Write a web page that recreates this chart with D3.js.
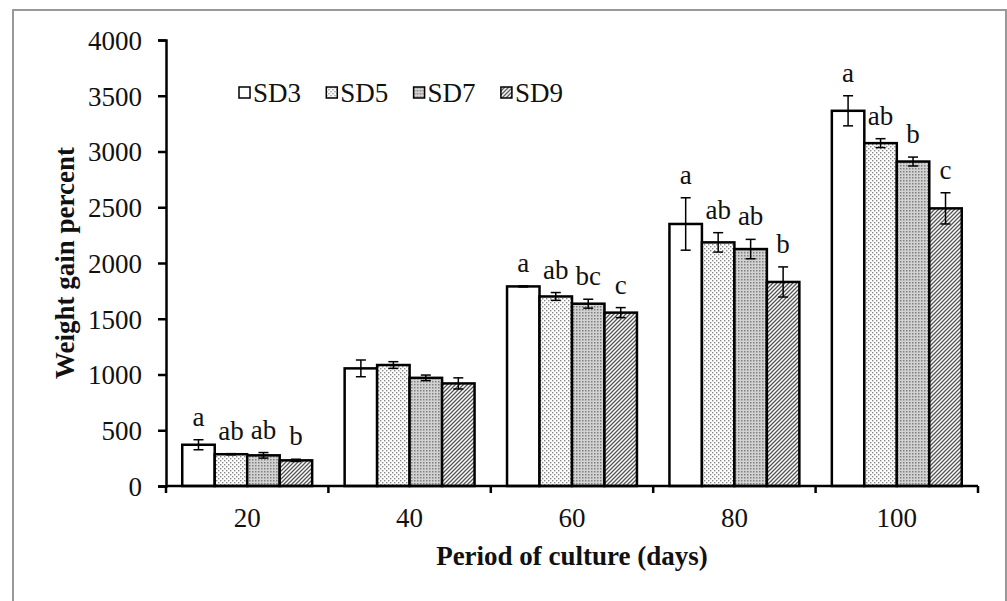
<!DOCTYPE html>
<html>
<head>
<meta charset="utf-8">
<style>
  body { margin: 0; background: #fff; }
  svg text { font-family: "Liberation Serif", "Times New Roman", serif; fill: #111; }
</style>
</head>
<body>
<svg width="1007" height="601"></svg>
<script src="https://d3js.org/d3.v7.min.js"></script>
<script>
// data
var periods = ["20", "40", "60", "80", "100"];
var series = ["SD3", "SD5", "SD7", "SD9"];
var means = {
  SD3: [370, 1055, 1790, 2350, 3365],
  SD5: [285, 1085, 1700, 2185, 3075],
  SD7: [275, 970, 1635, 2125, 2910],
  SD9: [230, 920, 1555, 1830, 2490]
};
var errs = {
  SD3: [45, 75, 5, 235, 135],
  SD5: [5, 30, 35, 87, 40],
  SD7: [25, 25, 40, 87, 40],
  SD9: [10, 50, 45, 135, 140]
};
var letters = {
  SD3: ["a", "", "a", "a", "a"],
  SD5: ["ab", "", "ab", "ab", "ab"],
  SD7: ["ab", "", "bc", "ab", "b"],
  SD9: ["b", "", "c", "b", "c"]
};
var yTicks = [0, 500, 1000, 1500, 2000, 2500, 3000, 3500, 4000];

var fs = 27;
var svg = d3.select("svg");

// outer frame
svg.append("rect")
  .attr("x", 13).attr("y", 10)
  .attr("width", 993).attr("height", 600)
  .attr("fill", "none").attr("stroke", "#999").attr("stroke-width", 2);

// fill patterns
var defs = svg.append("defs");
var p5 = defs.append("pattern").attr("id", "p-SD5")
  .attr("patternUnits", "userSpaceOnUse").attr("width", 4).attr("height", 4);
p5.append("rect").attr("width", 4).attr("height", 4).attr("fill", "#fff");
p5.append("rect").attr("x", 0).attr("y", 0).attr("width", 1.4).attr("height", 1.4).attr("fill", "#8a8a8a");
p5.append("rect").attr("x", 2).attr("y", 2).attr("width", 1.4).attr("height", 1.4).attr("fill", "#8a8a8a");

var p7 = defs.append("pattern").attr("id", "p-SD7")
  .attr("patternUnits", "userSpaceOnUse").attr("width", 3).attr("height", 3);
p7.append("rect").attr("width", 3).attr("height", 3).attr("fill", "#d2d2d2");
p7.append("rect").attr("width", 1.5).attr("height", 1.5).attr("fill", "#808080");

var p9 = defs.append("pattern").attr("id", "p-SD9")
  .attr("patternUnits", "userSpaceOnUse").attr("width", 4).attr("height", 4);
p9.append("rect").attr("width", 4).attr("height", 4).attr("fill", "#fff");
p9.append("path").attr("d", "M-1,1 l2,-2 M0,4 l4,-4 M3,5 l2,-2")
  .attr("stroke", "#555").attr("stroke-width", 1.3);

var fillOf = function(s) { return s === "SD3" ? "#fff" : "url(#p-" + s + ")"; };

var x0 = d3.scaleBand().domain(periods).range([166, 978]);
var x1 = d3.scaleBand().domain(series).range([0, x0.bandwidth()]).paddingOuter(0.5);
var y = d3.scaleLinear().domain([0, 4000]).range([486, 40]);

// bars
var rows = [];
periods.forEach(function(p, i) {
  series.forEach(function(s) {
    rows.push({ p: p, s: s, v: means[s][i], e: errs[s][i], l: letters[s][i] });
  });
});

var g = svg.append("g");
g.selectAll("rect.bar").data(rows).enter().append("rect")
  .attr("class", "bar")
  .attr("x", function(d) { return x0(d.p) + x1(d.s); })
  .attr("y", function(d) { return y(d.v); })
  .attr("width", x1.bandwidth())
  .attr("height", function(d) { return y(0) - y(d.v); })
  .attr("fill", function(d) { return fillOf(d.s); })
  .attr("stroke", "#000").attr("stroke-width", 2.5);

// error bars
var eb = g.selectAll("g.err").data(rows).enter().append("g")
  .attr("transform", function(d) { return "translate(" + (x0(d.p) + x1(d.s) + x1.bandwidth() / 2) + ",0)"; })
  .attr("stroke", "#000").attr("stroke-width", 1.5);
eb.append("line").attr("y1", function(d) { return y(d.v + d.e); }).attr("y2", function(d) { return y(d.v - d.e); });
eb.append("line").attr("x1", -5).attr("x2", 5)
  .attr("y1", function(d) { return y(d.v + d.e); }).attr("y2", function(d) { return y(d.v + d.e); });
eb.append("line").attr("x1", -5).attr("x2", 5)
  .attr("y1", function(d) { return y(d.v - d.e); }).attr("y2", function(d) { return y(d.v - d.e); });

// significance letters
g.selectAll("text.sig").data(rows.filter(function(d) { return d.l; })).enter().append("text")
  .attr("class", "sig")
  .attr("x", function(d) { return x0(d.p) + x1(d.s) + x1.bandwidth() / 2; })
  .attr("y", function(d) { return y(d.v + d.e) - 14; })
  .attr("text-anchor", "middle")
  .attr("font-size", fs)
  .text(function(d) { return d.l; });

// y axis
var yAxis = svg.append("g").attr("transform", "translate(166,0)")
  .call(d3.axisLeft(y).tickValues(yTicks).tickFormat(d3.format("d")).tickSize(8).tickPadding(16));
yAxis.selectAll("text").attr("font-size", fs).attr("dy", "0.35em");
yAxis.select(".domain").attr("stroke", "#000").attr("stroke-width", 2.5);
yAxis.selectAll(".tick line").attr("stroke", "#000").attr("stroke-width", 2.5);

// x axis with ticks on category boundaries
var xAxis = svg.append("g").attr("transform", "translate(0,486)");
xAxis.append("line").attr("x1", 166).attr("x2", 978);
xAxis.selectAll("line.tk").data(periods.concat(["end"])).enter().append("line")
  .attr("class", "tk")
  .attr("x1", function(d, i) { return x0.range()[0] + i * x0.step(); })
  .attr("x2", function(d, i) { return x0.range()[0] + i * x0.step(); })
  .attr("y1", 0).attr("y2", 7);
xAxis.selectAll("line").attr("stroke", "#000").attr("stroke-width", 2.5);
xAxis.selectAll("text").data(periods).enter().append("text")
  .attr("x", function(d) { return x0(d) + x0.bandwidth() / 2; })
  .attr("y", 41)
  .attr("text-anchor", "middle")
  .attr("font-size", fs)
  .text(function(d) { return d; });

// axis titles
svg.append("text")
  .attr("x", 572).attr("y", 565)
  .attr("text-anchor", "middle")
  .attr("font-size", fs).attr("font-weight", "bold")
  .text("Period of culture  (days)");

svg.append("text")
  .attr("transform", "translate(74,263) rotate(-90)")
  .attr("text-anchor", "middle")
  .attr("font-size", fs).attr("font-weight", "bold")
  .text("Weight  gain percent");

// legend
var lg = svg.append("g").selectAll("g").data(series).enter().append("g")
  .attr("transform", function(d, i) { return "translate(" + (239 + i * 87.3) + ",87)"; });
lg.append("rect").attr("width", 11).attr("height", 11)
  .attr("fill", fillOf).attr("stroke", "#000").attr("stroke-width", 1.5);
lg.append("text").attr("x", 14).attr("y", 15).attr("font-size", fs).text(function(d) { return d; });
</script>
</body>
</html>
